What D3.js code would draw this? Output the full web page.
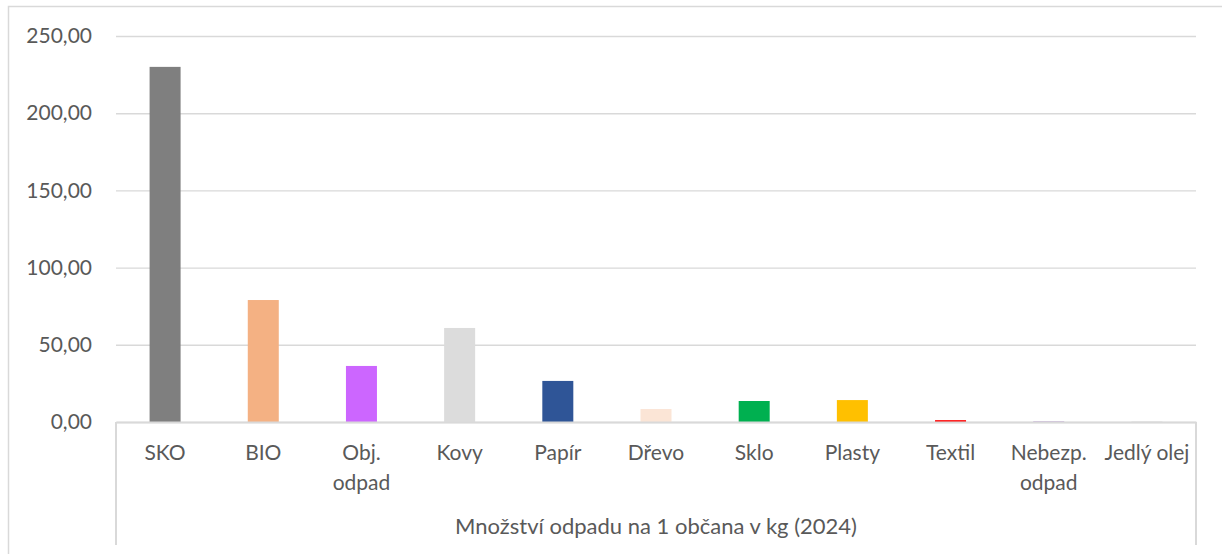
<!DOCTYPE html>
<html><head><meta charset="utf-8">
<script src="https://cdn.jsdelivr.net/npm/d3@7"></script>
<style>
html,body{margin:0;padding:0;background:#fff;}
svg{display:block;font-family:Lato, "Open Sans", sans-serif;}
</style></head>
<body>
<svg id="chart" width="1222" height="554"></svg>
<script>
const categories = ["SKO","BIO","Obj. odpad","Kovy","Papír","Dřevo","Sklo","Plasty","Textil","Nebezp. odpad","Jedlý olej"];
const values = [230.0, 79.0, 36.3, 60.9, 26.6, 8.4, 13.6, 14.2, 1.2, 0.2, 0.1];
const colors = ["#7f7f7f","#f4b183","#cc66ff","#dcdcdc","#2f5597","#fbe5d6","#00b050","#ffc000","#ff0000","#7030a0","#a5a5a5"];
const yTicks = [0,50,100,150,200,250];
const axisTitle = "Množství odpadu na 1 občana v kg (2024)";

const svg = d3.select("#chart");
const W = 1222, H = 554;
const L = 116, R = 1196, T = 36, B = 422;
const txt = "#595959", grid = "#d9d9d9";

// outer chart border
svg.append("rect").attr("x",8.5).attr("y",6.5).attr("width",W+20).attr("height",H+20)
  .attr("fill","none").attr("stroke",grid).attr("stroke-width",1.5);

const x = d3.scaleBand().domain(categories).range([L,R]).paddingInner(0).paddingOuter(0);
const y = d3.scaleLinear().domain([0,250]).range([B,T]);

const fmt = v => d3.format(".2f")(v).replace(".", ",");

// gridlines + y labels
const yAxis = d3.axisLeft(y).tickValues(yTicks).tickSize(-(R-L)).tickPadding(24).tickFormat(fmt);
const gy = svg.append("g").attr("transform",`translate(${L},0)`).call(yAxis);
gy.select(".domain").remove();
gy.selectAll(".tick line").attr("stroke",grid).attr("stroke-width",1.4);
gy.selectAll(".tick text").attr("fill",txt).attr("font-size",21).attr("font-family","Lato, sans-serif");

// bars
const bw = 31;
svg.append("g").selectAll("rect").data(categories).join("rect")
  .attr("x", d => x(d) + x.bandwidth()/2 - bw/2)
  .attr("width", bw)
  .attr("y", (d,i) => y(values[i]))
  .attr("height", (d,i) => B - y(values[i]))
  .attr("fill", (d,i) => colors[i]);

// category axis baseline and box
const gx = d3.axisBottom(x).tickSize(0).tickPadding(0);
const gX = svg.append("g").attr("transform",`translate(0,${B})`).call(gx);
gX.select(".domain").attr("stroke",grid).attr("stroke-width",2.2);
gX.selectAll(".tick text").remove();

svg.append("line").attr("x1",L).attr("x2",L).attr("y1",B).attr("y2",545).attr("stroke",grid).attr("stroke-width",2);
svg.append("line").attr("x1",R).attr("x2",R).attr("y1",B).attr("y2",545).attr("stroke",grid).attr("stroke-width",2);

// category labels with wrapping
const labG = svg.append("g");
categories.forEach(c => {
  const t = labG.append("text").attr("x", x(c)+x.bandwidth()/2).attr("y",460)
    .attr("text-anchor","middle").attr("fill",txt).attr("font-size",21);
  t.text(c);
  const w = t.node().getComputedTextLength();
  if (w > x.bandwidth()*0.95 && c.includes(" ")) {
    t.text(null);
    const words = c.split(" ");
    words.forEach((wd,i) => {
      t.append("tspan").attr("x", x(c)+x.bandwidth()/2).attr("dy", i===0?0:30).text(wd);
    });
  }
});

// axis title
svg.append("text").attr("x",(L+R)/2).attr("y",534).attr("text-anchor","middle")
  .attr("fill",txt).attr("font-size",22).text(axisTitle);
</script>
</body></html>
